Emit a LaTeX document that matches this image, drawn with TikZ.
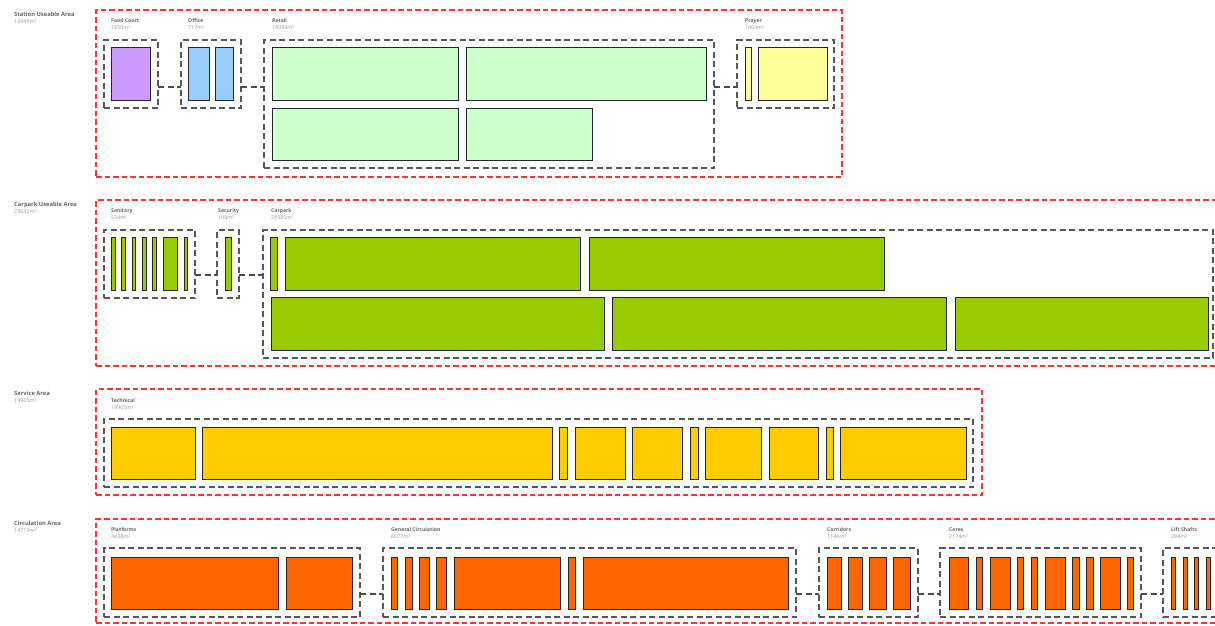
\documentclass[tikz,border=0pt]{standalone}
\usepackage{fontspec}
\setmainfont{Open Sans}
\definecolor{areared}{HTML}{FF3333}
\definecolor{grpgray}{HTML}{575757}
\definecolor{ttlgray}{HTML}{666666}
\definecolor{numgray}{HTML}{999999}
\definecolor{purp}{HTML}{CC99FF}
\definecolor{blu}{HTML}{99CCFF}
\definecolor{grn}{HTML}{CCFFCC}
\definecolor{ylw}{HTML}{FFFF99}
\definecolor{lime}{HTML}{99CC00}
\definecolor{gold}{HTML}{FFCC00}
\definecolor{orng}{HTML}{FF6600}
\tikzset{
  area/.style={draw=areared,line width=1.4pt,dash pattern=on 5.5pt off 3pt},
  grp/.style={draw=grpgray,line width=1.05pt,dash pattern=on 6pt off 3.5pt},
  conn/.style={draw=grpgray!85!black,line width=1.05pt,dash pattern=on 6pt off 3.5pt},
  room/.style={draw=black!85,line width=0.9pt,inner sep=0pt,outer sep=0pt},
  boxn/.style={inner sep=0pt,outer sep=0pt},
  ttl/.style={anchor=base west,inner sep=0pt,font=\fontsize{5.8}{7}\selectfont\bfseries,text=ttlgray},
  ttlnum/.style={anchor=base west,inner sep=0pt,font=\fontsize{5.4}{6}\selectfont,text=numgray},
  sub/.style={anchor=base west,inner sep=0pt,font=\fontsize{5.1}{6}\selectfont\bfseries,text=ttlgray},
  subnum/.style={anchor=base west,inner sep=0pt,font=\fontsize{5.3}{6}\selectfont,text=numgray},
}
\newcommand\roomR[6]{\node[room,fill=#2,minimum width={(#5-#3)*1pt},minimum height={(#6-#4)*1pt}] (#1) at ({(#3+#5)/2},{(#4+#6)/2}) {};}
\newcommand\grpR[6]{\node[boxn,#2,minimum width={(#5-#3)*1pt},minimum height={(#6-#4)*1pt}] (#1) at ({(#3+#5)/2},{(#4+#6)/2}) {};}
\newcommand\labR[5]{\node[sub] (#1t) at (#2,#3) {#4};\node[subnum] (#1n) at (#2,#3+7) {#5};}
\newcommand\ttlR[4]{\node[ttl] (#1t) at (14,#2) {#3};\node[ttlnum] (#1n) at (14,#2+7) {#4};}
\begin{document}
\begin{tikzpicture}[x=1pt,y=-1pt]
\clip (0,0) rectangle (1215,625);
\fill[white] (0,0) rectangle (1215,625);
% ---------------- Row 1: Station Useable Area
\ttlR{st}{16}{Station Useable Area}{16949m²}
\grpR{a1}{area}{96}{10}{842}{177}
\labR{fc}{111}{22}{Food Court}{1850m²}
\labR{of}{188}{22}{Office}{717m²}
\labR{rt}{272}{22}{Retail}{14099m²}
\labR{pr}{745}{22}{Prayer}{1404m²}
\grpR{gfc}{grp}{104}{40}{158}{108}
\grpR{gof}{grp}{181}{40}{241}{108}
\grpR{grt}{grp}{264}{40}{714}{168}
\grpR{gpr}{grp}{737}{40}{834}{108}
\roomR{fc1}{purp}{111}{47}{150}{100}
\roomR{of1}{blu}{188}{47}{209}{100}
\roomR{of2}{blu}{215}{47}{233}{100}
\roomR{rt1}{grn}{272}{47}{458}{100}
\roomR{rt2}{grn}{466}{47}{706}{100}
\roomR{rt3}{grn}{272}{108}{458}{160}
\roomR{rt4}{grn}{466}{108}{592}{160}
\roomR{pr1}{ylw}{745}{47}{751}{100}
\roomR{pr2}{ylw}{758}{47}{827}{100}
\coordinate (r1) at (0,87);
\draw[conn] (gfc.east |- r1) -- (gof.west |- r1);
\draw[conn] (gof.east |- r1) -- (grt.west |- r1);
\draw[conn] (grt.east |- r1) -- (gpr.west |- r1);
% ---------------- Row 2: Carpark Useable Area
\ttlR{cp}{206}{Carpark Useable Area}{29632m²}
\grpR{a2}{area}{96}{200}{1228}{366}
\labR{sa}{111}{212}{Sanitary}{539m²}
\labR{se}{218}{212}{Security}{108m²}
\labR{ck}{271}{212}{Carpark}{28985m²}
\grpR{gsa}{grp}{104}{230}{195}{298}
\grpR{gse}{grp}{217}{230}{239}{298}
\grpR{gck}{grp}{263}{230}{1213}{358}
\foreach \a/\b [count=\i] in {111/115,121/125,132/135,142/146,152/156,163/177,184/187}
  {\roomR{sa\i}{lime}{\a}{237}{\b}{290}}
\roomR{se1}{lime}{225}{237}{231}{290}
\roomR{ck1}{lime}{270}{237}{277}{290}
\roomR{ck2}{lime}{285}{237}{580}{290}
\roomR{ck3}{lime}{589}{237}{884}{290}
\roomR{ck4}{lime}{271}{297}{604}{350}
\roomR{ck5}{lime}{612}{297}{946}{350}
\roomR{ck6}{lime}{955}{297}{1208}{350}
\coordinate (r2) at (0,275);
\draw[conn] (gsa.east |- r2) -- (gse.west |- r2);
\draw[conn] (gse.east |- r2) -- (gck.west |- r2);
% ---------------- Row 3: Service Area
\ttlR{sv}{395}{Service Area}{14965m²}
\grpR{a3}{area}{96}{389}{982}{495}
\labR{te}{111}{402}{Technical}{14965m²}
\grpR{gte}{grp}{104}{419}{973}{487}
\foreach \a/\b [count=\i] in {111/195,202/552,559/567,575/625,632/682,690/698,705/761,769/818,826/833,840/966}
  {\roomR{te\i}{gold}{\a}{427}{\b}{479}}
% ---------------- Row 4: Circulation Area
\ttlR{ci}{525}{Circulation Area}{14719m²}
\grpR{a4}{area}{96}{519}{1228}{623}
\labR{pl}{111}{531}{Platforms}{4438m²}
\labR{gc}{391}{531}{General Circulation}{6677m²}
\labR{co}{827}{531}{Corridors}{1146m²}
\labR{cr}{949}{531}{Cores}{2174m²}
\labR{ls}{1171}{531}{Lift Shafts}{284m²}
\grpR{gpl}{grp}{104}{548}{360}{617}
\grpR{ggc}{grp}{383}{548}{796}{617}
\grpR{gco}{grp}{819}{548}{918}{617}
\grpR{gcr}{grp}{940}{548}{1141}{617}
\grpR{gls}{grp}{1163}{548}{1232}{617}
\foreach \a/\b [count=\i] in {111/278,286/352}
  {\roomR{pl\i}{orng}{\a}{557}{\b}{609}}
\foreach \a/\b [count=\i] in {391/397,405/412,419/429,436/446,454/560,568/575,583/788}
  {\roomR{gc\i}{orng}{\a}{557}{\b}{609}}
\foreach \a/\b [count=\i] in {827/841,848/862,869/886,893/910}
  {\roomR{co\i}{orng}{\a}{557}{\b}{609}}
\foreach \a/\b [count=\i] in {949/968,976/982,990/1010,1017/1023,1031/1037,1045/1065,1072/1079,1086/1093,1100/1120,1127/1133}
  {\roomR{cr\i}{orng}{\a}{557}{\b}{609}}
\foreach \a/\b [count=\i] in {1171/1175,1183/1187,1194/1198,1206/1210,1218/1222}
  {\roomR{ls\i}{orng}{\a}{557}{\b}{609}}
\coordinate (r4) at (0,594);
\draw[conn] (gpl.east |- r4) -- (ggc.west |- r4);
\draw[conn] (ggc.east |- r4) -- (gco.west |- r4);
\draw[conn] (gco.east |- r4) -- (gcr.west |- r4);
\draw[conn] (gcr.east |- r4) -- (gls.west |- r4);
\end{tikzpicture}
\end{document}
